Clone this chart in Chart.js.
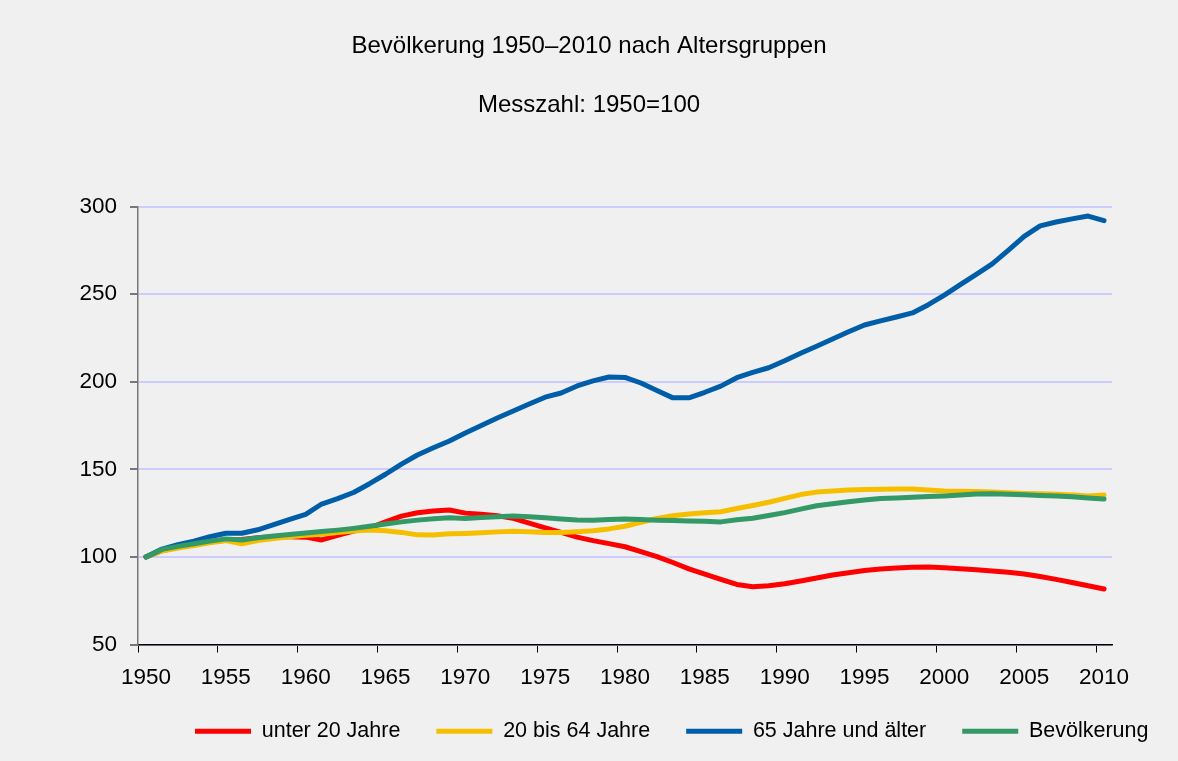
<!DOCTYPE html>
<html>
<head>
<meta charset="utf-8">
<script src="https://cdn.jsdelivr.net/npm/chart.js@4.4.1/dist/chart.umd.min.js"></script>
<style>
  html, body { margin: 0; padding: 0; background: #eff0ef; }
  #wrap { width: 1178px; height: 761px; }
</style>
</head>
<body>
<div id="wrap"><canvas id="chart" width="1178" height="761"></canvas></div>
<script>
const years = Array.from({ length: 61 }, (_, i) => 1950 + i);

const unter20 = [
  100, 103.5, 105.5, 107, 108.5, 109.5, 110, 111, 111.5, 111.5,
  111.3, 109.7, 112.3, 114.8, 116.5, 120, 123.3, 125.2, 126.2, 126.8,
  125, 124.3, 123.5, 122, 119.3, 116.6, 114, 111.3, 109.3, 107.6,
  105.8, 103, 100.2, 96.8, 93.2, 90.2, 87.2, 84.3, 83, 83.5,
  84.7, 86.3, 88, 89.7, 91, 92.2, 93.1, 93.7, 94.1, 94.2,
  93.8, 93.2, 92.7, 92, 91.2, 90.3, 88.8, 87.2, 85.4, 83.5,
  81.7
];

const erwerb = [
  100, 103.3, 105, 106.5, 108, 109.3, 107.5, 109.3, 110.5, 111.5,
  112.3, 113, 114, 114.8, 115.3, 115, 114, 112.6, 112.5, 113.2,
  113.4, 113.8, 114.3, 114.7, 114.4, 113.9, 114, 114.4, 114.9, 116,
  117.5, 119.8, 122, 123.5, 124.5, 125.2, 125.8, 127.6, 129.4, 131.2,
  133.4, 135.6, 137, 137.7, 138.2, 138.5, 138.7, 138.8, 138.8, 138.2,
  137.6, 137.5, 137.4, 137, 136.6, 136.2, 136, 135.8, 135.3, 134.8,
  135.4
];

const senioren = [
  100, 104.5, 107, 109, 111.5, 113.5, 113.5, 115.5, 118.5, 121.5,
  124.3, 130.2, 133.3, 136.8, 141.8, 147.2, 153, 158.2, 162.3, 166.2,
  170.8, 175, 179.3, 183.3, 187.3, 191.2, 193.6, 197.6, 200.5, 202.7,
  202.5, 199.3, 195, 190.8, 190.8, 194, 197.5, 202.3, 205.3, 208,
  212, 216.3, 220.3, 224.4, 228.5, 232.4, 234.8, 237, 239.3, 244,
  249.5, 255.5, 261.3, 267.3, 275, 283, 289, 291.2, 293, 294.6,
  292
];

const gesamt = [
  100, 104.3, 106, 107.5, 109, 110.3, 109.7, 111, 112, 112.8,
  113.7, 114.5, 115.3, 116.3, 117.5, 118.8, 120, 121, 121.8, 122.3,
  122, 122.5, 123, 123.4, 123, 122.3, 121.6, 121.1, 121, 121.3,
  121.7, 121.3, 121, 120.8, 120.5, 120.3, 120, 121.2, 122.1, 123.6,
  125.3, 127.3, 129.2, 130.3, 131.5, 132.5, 133.4, 133.7, 134.1, 134.5,
  134.8, 135.3, 135.9, 136, 135.8, 135.5, 135.1, 134.8, 134.3, 133.7,
  133
];

const seriesNames = ["unter 20 Jahre", "20 bis 64 Jahre", "65 Jahre und älter", "Bevölkerung"];
const seriesColors = ["#ff0000", "#f5bf00", "#005ea8", "#339966"];
const seriesData = [unter20, erwerb, senioren, gesamt];

Chart.defaults.font.family = "'Liberation Sans', Arial, sans-serif";
Chart.defaults.color = "#000";

// moves the legend row to where the original puts it
const legendShift = {
  id: "legendShift",
  afterLayout(chart) {
    const lg = chart.legend;
    const w = lg.right - lg.left;
    lg.left = 159;
    lg.right = lg.left + w;
    lg.top -= 9;
    lg.bottom -= 9;
  }
};

const bg = {
  id: "bg",
  beforeDraw(chart) {
    const ctx = chart.ctx;
    ctx.save();
    ctx.fillStyle = "#eff0ef";
    ctx.fillRect(0, 0, chart.width, chart.height);
    ctx.restore();
  }
};

new Chart(document.getElementById("chart"), {
  type: "line",
  data: {
    labels: years,
    datasets: seriesData.map((d, i) => ({
      label: seriesNames[i],
      data: d,
      borderColor: seriesColors[i],
      backgroundColor: seriesColors[i],
      borderWidth: 5,
      borderCapStyle: "round",
      borderJoinStyle: "round",
      pointRadius: 0,
      tension: 0,
      order: 4 - i
    }))
  },
  options: {
    responsive: false,
    animation: false,
    layout: { padding: { left: 0, right: 0, top: 0, bottom: 0 } },
    plugins: {
      title: {
        display: true,
        text: "Bevölkerung 1950–2010 nach Altersgruppen",
        font: { size: 24, weight: "normal" },
        padding: { top: 32, bottom: 30 }
      },
      subtitle: {
        display: true,
        text: "Messzahl: 1950=100",
        font: { size: 24 },
        color: "#000",
        padding: { top: 0, bottom: 87 }
      },
      legend: {
        position: "bottom",
        align: "start",
        labels: {
          usePointStyle: true,
          pointStyle: "line",
          pointStyleWidth: 56,
          padding: 36,
          font: { size: 21.5 },
          sort: (a, b) => a.datasetIndex - b.datasetIndex
        }
      },
      tooltip: { enabled: false }
    },
    scales: {
      x: {
        type: "category",
        offset: true,
        grid: {
          offset: true,
          drawOnChartArea: false,
          tickLength: 8,
          tickWidth: 1,
          tickColor: (c) => (c.index % 5 === 0 ? "#000" : "rgba(0,0,0,0)")
        },
        border: { color: "#000", width: 1.5 },
        ticks: {
          autoSkip: false,
          maxRotation: 0,
          padding: 12,
          font: { size: 22.5 },
          callback: (v, i) => (years[i] % 5 === 0 ? String(years[i]) : "")
        },
        afterFit: (s) => { s.height = 49; }
      },
      y: {
        min: 50,
        max: 300,
        ticks: { stepSize: 50, padding: 13, font: { size: 22.5 } },
        grid: { color: "#ccccff", lineWidth: 2, tickLength: 8, tickColor: "#000", tickWidth: 1 },
        border: { color: "#777", width: 1.5 },
        afterFit: (s) => { s.width = 138; }
      },
      pad: {
        type: "linear",
        position: "right",
        display: true,
        grid: { display: false },
        border: { display: false },
        ticks: { display: false },
        afterFit: (s) => { s.width = 66; }
      }
    }
  },
  plugins: [bg, legendShift]
});
</script>
</body>
</html>
